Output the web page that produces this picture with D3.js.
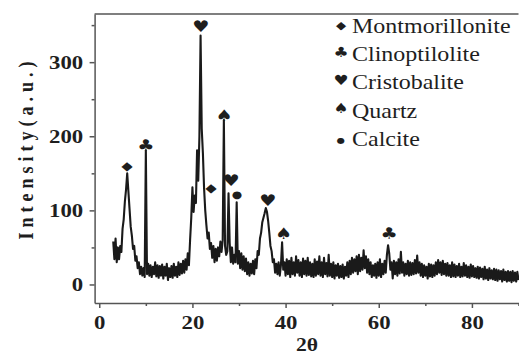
<!DOCTYPE html>
<html>
<head>
<meta charset="utf-8">
<script src="https://cdn.jsdelivr.net/npm/d3@7"></script>
<style>
  body { margin: 0; background: #fff; }
  svg { display: block; }
  .axis path, .axis line { stroke: #555; stroke-width: 1.5; }
  .axis text { font-family: "Liberation Serif", "Times New Roman", serif; font-weight: bold; font-size: 19px; fill: #1e1e1e; }
  .legend .name { font-family: "Liberation Serif", "Times New Roman", serif; font-size: 20px; fill: #1e1e1e; }
  .marker { font-family: "DejaVu Sans", sans-serif; fill: #1e1e1e; }
</style>
</head>
<body>
<svg id="root" width="519" height="356"></svg>
<script>
// XRD scan, 2θ from 3° to 90° in 0.25° steps
const scanStart = 3;
const scanStep = 0.25;
const intensity = [
  58, 34, 62, 30, 50, 34, 52, 44,                                                              // 3.0 - 4.75
  75, 88, 112, 128, 150, 126, 102, 78, 66, 48, 52, 32, 38, 22, 30, 14, 24, 12, 22, 10,          // 5
  181, 14, 28, 12, 26, 10, 24, 14, 30, 11, 26, 9, 25, 12, 27, 8, 24, 12, 28, 6,                 // 10
  22, 10, 25, 9, 28, 12, 24, 10, 30, 13, 28, 15, 32, 16, 34, 20, 42, 26, 60, 90,                // 15
  131, 98, 120, 110, 181, 140, 200, 336, 210, 177, 130, 100, 80, 62, 70, 48, 56, 36, 52, 30,    // 20
  48, 32, 50, 38, 58, 44, 60, 222, 52, 40, 45, 123, 56, 30, 50, 28, 40, 30, 111, 28,           // 25
  45, 22, 42, 20, 38, 18, 35, 14, 30, 12, 28, 15, 32, 14, 34, 22, 45, 40, 62, 70,               // 30
  84, 90, 96, 103, 98, 86, 70, 52, 45, 30, 34, 16, 28, 14, 30, 12, 26, 57, 20, 30,              // 35
  12, 34, 14, 32, 10, 36, 14, 30, 12, 38, 16, 33, 12, 30, 10, 35, 14, 32, 12, 36,               // 40
  13, 30, 11, 28, 10, 34, 12, 31, 14, 38, 12, 30, 10, 36, 14, 29, 11, 40, 12, 28,               // 45
  10, 30, 8, 26, 12, 28, 9, 25, 10, 27, 8, 24, 12, 30, 10, 32, 14, 36, 16, 34,                  // 50
  18, 38, 14, 40, 18, 36, 20, 46, 22, 38, 16, 34, 14, 30, 10, 26, 12, 28, 9, 30,                // 55
  12, 34, 10, 28, 14, 32, 16, 40, 53, 42, 20, 30, 8, 32, 14, 30, 12, 34, 15, 44,                // 60
  16, 30, 12, 28, 14, 32, 12, 30, 13, 29, 14, 33, 15, 39, 16, 30, 12, 28, 10, 26,               // 65
  12, 24, 8, 28, 11, 27, 10, 26, 12, 30, 14, 33, 16, 30, 13, 32, 14, 28, 12, 29,                // 70
  12, 26, 10, 30, 11, 27, 10, 25, 12, 28, 10, 24, 11, 29, 12, 26, 10, 24, 9, 27,                // 75
  11, 25, 10, 22, 9, 24, 8, 23, 10, 21, 7, 24, 8, 20, 6, 22, 8, 19, 7, 21,                      // 80
  6, 20, 5, 19, 7, 18, 4, 20, 6, 17, 4, 18, 5, 17, 3, 18, 5, 16, 4, 17,                         // 85
  6                                                                                             // 90
];

const phases = ['Montmorillonite', 'Clinoptilolite', 'Cristobalite', 'Quartz', 'Calcite'];
const phaseSymbols = ['\u25C6', '\u2663', '\u2665', '\u2660', '\u25CF'];

// identified peaks: 2θ, height of the symbol, phase
const peakAngles = [5.95, 10.0, 21.8, 24.0, 26.8, 28.3, 29.55, 36.2, 39.6, 62.2];
const peakHeights = [160, 188, 349, 131, 228, 141, 121, 114, 69, 69];
const peakPhases = [0, 1, 2, 0, 3, 2, 4, 2, 3, 1];

const xTicks = [0, 20, 40, 60, 80];
const xMinorTicks = [10, 30, 50, 70, 90];
const yTicks = [0, 100, 200, 300];
const yMinorTicks = [50, 150, 250, 350];

const margin = { top: 14, right: 0.5, bottom: 53, left: 94.6 };
const width = 519 - margin.left - margin.right;
const height = 356 - margin.top - margin.bottom;
const stretch = 1.2; // the figure is widened horizontally

const xScale = d3.scaleLinear().domain([-1, 90]).range([margin.left, margin.left + width]);
const yScale = d3.scaleLinear().domain([-25, 365]).range([margin.top + height, margin.top]);

const chart = d3.select('#root');

// top border
chart.append('line')
  .attr('x1', xScale.range()[0]).attr('x2', xScale.range()[1])
  .attr('y1', yScale.range()[1]).attr('y2', yScale.range()[1])
  .attr('stroke', '#555').attr('stroke-width', 1.5);

const line = d3.line()
  .x((d, i) => xScale(scanStart + i * scanStep))
  .y(d => yScale(d));

chart.append('path')
  .datum(intensity)
  .attr('d', line)
  .attr('fill', 'none')
  .attr('stroke', '#1a1a1a')
  .attr('stroke-width', 2.1)
  .attr('stroke-linejoin', 'round');

// axes
const xAxis = chart.append('g')
  .attr('class', 'axis')
  .attr('transform', `translate(0, ${yScale.range()[0]})`)
  .call(d3.axisBottom(xScale).tickValues(xTicks).tickSize(5).tickSizeOuter(0).tickPadding(8));
xAxis.selectAll('text').attr('transform', `scale(${stretch},1)`);

chart.append('g')
  .attr('class', 'axis')
  .attr('transform', `translate(0, ${yScale.range()[0]})`)
  .call(d3.axisBottom(xScale).tickValues(xMinorTicks).tickSize(3).tickSizeOuter(0).tickFormat(''))
  .select('.domain').remove();

const yAxis = chart.append('g')
  .attr('class', 'axis')
  .attr('transform', `translate(${xScale.range()[0]}, 0)`)
  .call(d3.axisLeft(yScale).tickValues(yTicks).tickSize(5).tickSizeOuter(0).tickPadding(4.5));
yAxis.selectAll('text').attr('transform', `scale(${stretch},1)`);

chart.append('g')
  .attr('class', 'axis')
  .attr('transform', `translate(${xScale.range()[0]}, 0)`)
  .call(d3.axisLeft(yScale).tickValues(yMinorTicks).tickSize(3).tickSizeOuter(0).tickFormat(''))
  .select('.domain').remove();

// axis titles
chart.append('text')
  .attr('transform', `translate(307, 351) scale(${stretch},1)`)
  .attr('text-anchor', 'middle')
  .style('font-family', '"Liberation Serif", serif')
  .style('font-weight', 'bold')
  .style('font-size', '18px')
  .attr('fill', '#1e1e1e')
  .text('2\u03B8');

chart.append('text')
  .attr('transform', `translate(33, 148) rotate(-90) scale(1,${stretch})`)
  .attr('text-anchor', 'middle')
  .style('font-family', '"Liberation Serif", serif')
  .style('font-weight', 'bold')
  .style('font-size', '18px')
  .style('letter-spacing', '5px')
  .attr('fill', '#1e1e1e')
  .text('Intensity(a.u.)');

// peak symbols
const markerSize = [12, 16, 16, 16, 10];
chart.selectAll('.peak')
  .data(peakAngles)
  .enter().append('text')
  .attr('class', 'peak marker')
  .attr('transform', (d, i) => `translate(${xScale(d)}, ${yScale(peakHeights[i])}) scale(${stretch},1)`)
  .attr('text-anchor', 'middle')
  .attr('dy', '0.36em')
  .style('font-size', (d, i) => markerSize[peakPhases[i]] + 'px')
  .text((d, i) => phaseSymbols[peakPhases[i]]);

// legend
const legendSize = [11, 14, 14, 14, 8];
const legend = chart.append('g').attr('class', 'legend');
const rows = legend.selectAll('g')
  .data(phases)
  .enter().append('g')
  .attr('transform', (d, i) => `translate(341, ${33 + i * 28.2})`);

rows.append('text')
  .attr('class', 'marker')
  .attr('transform', `scale(${stretch},1)`)
  .attr('text-anchor', 'middle')
  .attr('dy', '-0.32em')
  .style('font-size', (d, i) => legendSize[i] + 'px')
  .text((d, i) => phaseSymbols[i]);

rows.append('text')
  .attr('class', 'name')
  .attr('transform', `translate(11, 0) scale(${stretch},1)`)
  .text(d => d);
</script>
</body>
</html>
